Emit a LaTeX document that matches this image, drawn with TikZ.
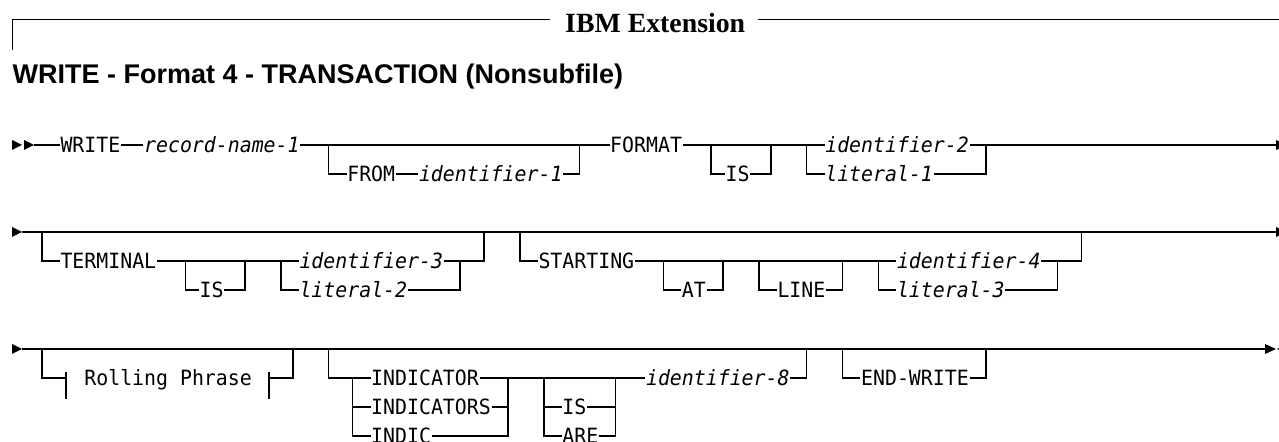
\documentclass[tikz,border=0pt]{standalone}
\usepackage{fontspec}
\newfontfamily\synfont{DejaVu Sans Mono}[FakeStretch=0.946]
\newfontfamily\headfont{Liberation Sans}
\newfontfamily\extfont{Liberation Serif}
\tikzset{
  kw/.style={anchor=west, inner sep=0pt, text height=7.65pt, text depth=0pt,
    font=\fontsize{10.5}{12}\selectfont\synfont},
  var/.style={kw, font=\fontsize{10.5}{12}\selectfont\synfont\itshape}
}
\begin{document}
\begin{tikzpicture}[x=0.5pt, y=-0.5pt, line width=0.7pt]
  \useasboundingbox (0,0) rectangle (1279,442);
  \clip (0,0) rectangle (1279,442);

  % header
  \draw node[anchor=base west, inner sep=0pt, font=\fontsize{13.9}{16}\selectfont\extfont\bfseries] (ibm) at (564.5,32.3) {IBM Extension};
  \coordinate (hl) at (12,50);
  \coordinate (hm) at (550,19.5);
  \coordinate (hn) at (758,19.5);
  \coordinate (hr) at (1279,19.5);
  \draw[line width=0.5pt] (hl) |- (hm);
  \draw[line width=0.5pt] (hn) -- (hr);
  \draw node[anchor=base west, inner sep=0pt, font=\fontsize{13.5}{16}\selectfont\headfont\bfseries] (title) at (12,84) {WRITE - Format 4 - TRANSACTION (Nonsubfile)};

  % row 1
  \begin{scope}[yshift=-72.5pt]
    \fill (12,-5) -- (22,0) -- (12,5) -- cycle;
    \fill (24,-5) -- (34,0) -- (24,5) -- cycle;
    \coordinate (start) at (34,0);
    \coordinate (end) at (1279,0);
    \draw node[kw] (write) at (59.8,0) {WRITE};
    \draw node[var] (recname) at (143.45,0) {record-name-1};
    \draw node[kw] (from) at (346.6,29) {FROM};
    \draw node[var] (idf1) at (418.3,29) {identifier-1};
    \draw node[kw] (format) at (609.5,0) {FORMAT};
    \draw node[kw] (is) at (725,29) {IS};
    \draw node[var] (idf2) at (824.6,0) {identifier-2};
    \draw node[var] (lit1) at (824.6,29) {literal-1};
    \coordinate (b1) at (328.7,0);
    \coordinate (b2) at (579.6,0);
    \coordinate (c1) at (711.1,0);
    \coordinate (c2) at (770.9,0);
    \coordinate (d1) at (806.7,0);
    \coordinate (d2) at (985.9,0);

    \draw (start) -- (write.west);
    \draw (write.east) -- (recname.west);
    \draw (recname.east) -- (format.west);
    \draw (b1) |- (from.west);
    \draw (from.east) -- (idf1.west);
    \draw (idf1.east) -| (b2);
    \draw (format.east) -- (idf2.west);
    \draw (c1) |- (is.west);
    \draw (is.east) -| (c2);
    \draw (d1) |- (lit1.west);
    \draw (lit1.east) -| (d2);
    \draw (idf2.east) -- (end);
    \fill (1276,-5) -- (1286,0) -- (1276,5) -- cycle;
  \end{scope}

  % row 2
  \begin{scope}[yshift=-116pt]
    \fill (12,-5) -- (22,0) -- (12,5) -- cycle;
    \coordinate (start) at (22,0);
    \coordinate (end) at (1279,0);
    \draw node[kw] (term) at (59.8,29) {TERMINAL};
    \draw node[kw] (is) at (199,58) {IS};
    \draw node[var] (idf3) at (298.8,29) {identifier-3};
    \draw node[var] (lit2) at (298.8,58) {literal-2};
    \draw node[kw] (starting) at (537.8,29) {STARTING};
    \draw node[kw] (at1) at (681.2,58) {AT};
    \draw node[kw] (line1) at (776.8,58) {LINE};
    \draw node[var] (idf4) at (896.3,29) {identifier-4};
    \draw node[var] (lit3) at (896.3,58) {literal-3};
    \coordinate (a1) at (41.9,0);
    \coordinate (a2) at (484.0,0);
    \coordinate (e1) at (185.3,29);
    \coordinate (e2) at (245.0,29);
    \coordinate (f1) at (280.9,29);
    \coordinate (f2) at (460.1,29);
    \coordinate (g1) at (519.9,0);
    \coordinate (g2) at (1081.5,0);
    \coordinate (h1) at (663.3,29);
    \coordinate (h2) at (723.0,29);
    \coordinate (k1) at (758.9,29);
    \coordinate (k2) at (842.6,29);
    \coordinate (m1) at (878.4,29);
    \coordinate (m2) at (1057.6,29);

    \draw (start) -- (end);
    \draw (a1) |- (term.west);
    \draw (term.east) -- (idf3.west);
    \draw (e1) |- (is.west);
    \draw (is.east) -| (e2);
    \draw (f1) |- (lit2.west);
    \draw (lit2.east) -| (f2);
    \draw (idf3.east) -| (a2);
    \draw (g1) |- (starting.west);
    \draw (starting.east) -- (idf4.west);
    \draw (h1) |- (at1.west);
    \draw (at1.east) -| (h2);
    \draw (k1) |- (line1.west);
    \draw (line1.east) -| (k2);
    \draw (m1) |- (lit3.west);
    \draw (lit3.east) -| (m2);
    \draw (idf4.east) -| (g2);
    \fill (1276,-5) -- (1286,0) -- (1276,5) -- cycle;
  \end{scope}

  % row 3
  \begin{scope}[yshift=-174.5pt]
    \fill (12,-5) -- (22,0) -- (12,5) -- cycle;
    \coordinate (start) at (22,0);
    \coordinate (end) at (1266,0);
    \draw node[kw] (roll) at (83.7,29) {Rolling Phrase};
    \draw node[kw] (ind) at (370.5,29) {INDICATOR};
    \draw node[kw] (inds) at (370.5,58) {INDICATORS};
    \draw node[kw] (indc) at (370.5,87) {INDIC};
    \draw node[kw] (is) at (561.7,58) {IS};
    \draw node[kw] (are) at (561.7,87) {ARE};
    \draw node[var] (idf8) at (645.35,29) {identifier-8};
    \draw node[kw] (endw) at (860.45,29) {END-WRITE};
    \coordinate (a1) at (41.9,0);
    \coordinate (ta) at (65.8,29);
    \coordinate (tb) at (268.9,29);
    \coordinate (a2) at (292.8,0);
    \coordinate (b1) at (328.7,0);
    \coordinate (b2) at (352.6,29);
    \coordinate (b3) at (508.0,29);
    \coordinate (b4) at (806.7,0);
    \coordinate (c1) at (543.8,29);
    \coordinate (c2) at (615.5,29);
    \coordinate (d1) at (842.6,0);
    \coordinate (d2) at (985.9,0);

    \draw (start) -- (end);
    \draw (a1) |- (ta);
    \draw (tb) -| (a2);
    \draw ([yshift=3.2pt]ta) -- ([yshift=-10.6pt]ta);
    \draw ([yshift=3.2pt]tb) -- ([yshift=-10.6pt]tb);
    \draw (b1) |- (ind.west);
    \draw (b2) |- (inds.west);
    \draw (b2) |- (indc.west);
    \draw (inds.east) -| (b3);
    \draw (indc.east) -| (b3);
    \draw (ind.east) -- (idf8.west);
    \draw (c1) |- (is.west);
    \draw (c1) |- (are.west);
    \draw (is.east) -| (c2);
    \draw (are.east) -| (c2);
    \draw (idf8.east) -| (b4);
    \draw (d1) |- (endw.west);
    \draw (endw.east) -| (d2);
    \fill (1265,-5) -- (1276,0) -- (1265,5) -- cycle;
    \fill (1277,0) -- (1288,-5) -- (1288,5) -- cycle;
  \end{scope}
\end{tikzpicture}
\end{document}
